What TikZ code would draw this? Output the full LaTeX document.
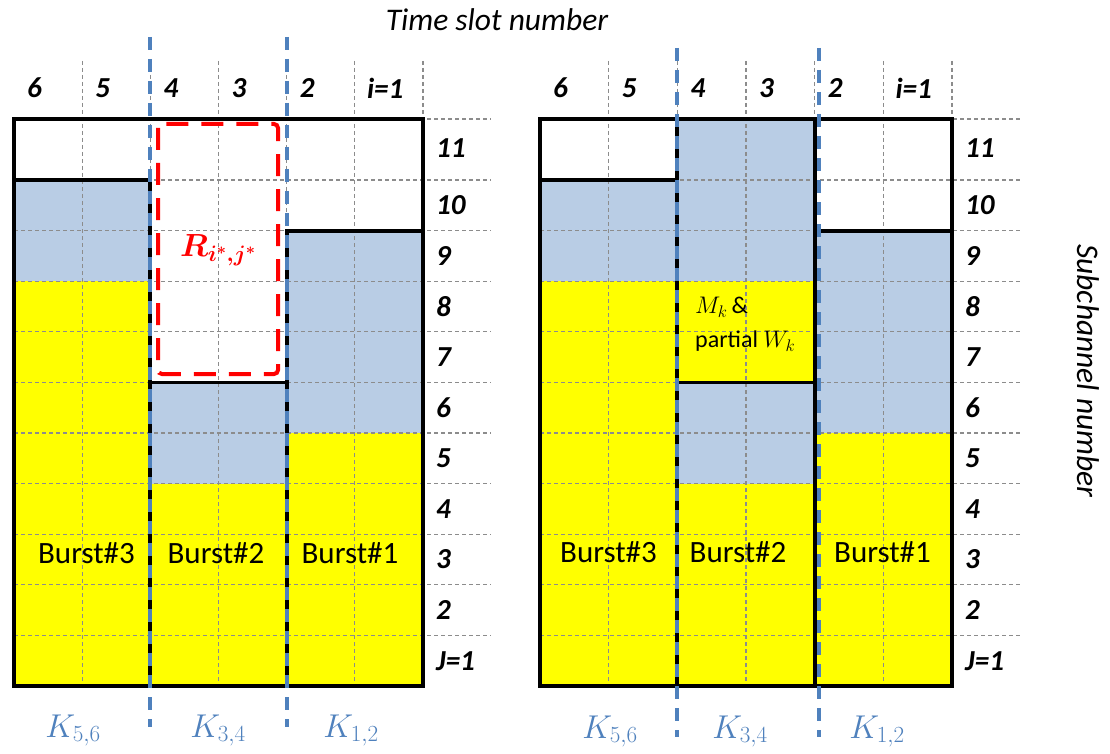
\RequirePackage{fix-cm}
\documentclass[tikz,border=0pt]{standalone}
\usepackage{amsmath}
\usepackage{fontspec}
\setmainfont{Carlito}
\definecolor{lblue}{HTML}{B9CDE5}
\definecolor{yel}{HTML}{FFFF00}
\definecolor{kblue}{HTML}{4F81BD}
\definecolor{gridgray}{HTML}{8C8C8C}
\definecolor{rred}{HTML}{FF0000}
\begin{document}
\begin{tikzpicture}[x=1pt,y=-1pt,
  gridline/.style={draw=gridgray,line width=1.2pt,dash pattern=on 4pt off 3pt},
  blk/.style={draw=black,line width=3.8pt,line cap=rect,line join=miter},
  kline/.style={draw=kblue,line width=3.8pt,dash pattern=on 13pt off 9pt},
  numlab/.style={font=\fontsize{29}{32}\selectfont\bfseries\itshape,inner sep=0pt},
  burstlab/.style={font=\fontsize{31}{34}\selectfont,inner sep=0pt},
  klab/.style={text=kblue,font=\fontsize{33}{36}\selectfont,inner sep=0pt,anchor=base},
  axislab/.style={font=\fontsize{31.5}{34}\selectfont\itshape,inner sep=0pt}]
\useasboundingbox (0,0) rectangle (1110,754);
\fill[white] (0,0) rectangle (1110,754);
% ---------- fills: left grid ----------
\fill[lblue] (14,180) rectangle (150.33,281.2);
\fill[yel] (14,281.2) rectangle (150.33,686);
\fill[lblue] (150.33,382.4) rectangle (286.67,483.6);
\fill[yel] (150.33,483.6) rectangle (286.67,686);
\fill[lblue] (286.67,230.6) rectangle (423,433);
\fill[yel] (286.67,433) rectangle (423,686);
% ---------- fills: right grid ----------
\fill[lblue] (540,180) rectangle (677.33,281.2);
\fill[yel] (540,281.2) rectangle (677.33,686);
\fill[lblue] (677.33,119) rectangle (814.67,281.2);
\fill[yel] (677.33,281.2) rectangle (814.67,382.4);
\fill[lblue] (677.33,382.4) rectangle (814.67,483.6);
\fill[yel] (677.33,483.6) rectangle (814.67,686);
\fill[lblue] (814.67,230.6) rectangle (952,433);
\fill[yel] (814.67,433) rectangle (952,686);
% ---------- gray dashed grid ----------
\foreach \xo/\w in {14/68.1667,540/68.6667}{
  \foreach \k in {1,...,6}{
    \draw[gridline] ({\xo+\k*\w},61) -- ({\xo+\k*\w},686);
  }
  \foreach \k in {1,...,10}{
    \draw[gridline] (\xo,{686-50.6*\k}) -- ({\xo+7*\w},{686-50.6*\k});
  }
  \draw[gridline] (\xo,119) -- ({\xo+7*\w},119);
}
% ---------- black outlines: left ----------
\draw[blk] (14,119) rectangle (423,686);
\draw[blk] (14,180) -- (150.33,180) -- (150.33,686);
\draw[blk] (150.33,382.4) -- (286.67,382.4);
\draw[blk] (286.67,686) -- (286.67,230.6) -- (423,230.6);
% ---------- black outlines: right ----------
\draw[blk] (540,119) rectangle (952,686);
\draw[blk] (540,180) -- (677.33,180);
\draw[blk] (677.33,119) -- (677.33,686);
\draw[blk] (677.33,382.4) -- (814.67,382.4);
\draw[blk] (814.67,119) -- (814.67,686);
\draw[blk] (814.67,230.6) -- (952,230.6);
% ---------- blue dashed dividers ----------
\coordinate (kl1t) at (150.33,37);  \coordinate (kl1b) at (150.33,727);
\coordinate (kl2t) at (286.67,37);  \coordinate (kl2b) at (286.67,727);
\coordinate (kr1t) at (677.33,48);  \coordinate (kr1b) at (677.33,737);
\coordinate (kr2t) at (819,48);     \coordinate (kr2b) at (819,737);
\draw[kline] (kl1t) -- (kl1b);
\draw[kline] (kl2t) -- (kl2b);
\draw[kline] (kr1t) -- (kr1b);
\draw[kline] (kr2t) -- (kr2b);
% ---------- red dashed region ----------
\draw[draw=rred,line width=4pt,dash pattern=on 22pt off 13pt,rounded corners=4pt]
  (158,124) rectangle (278,374);
\node[text=rred,inner sep=0pt,font=\fontsize{32}{34}\selectfont] (rlab) at (218,250) {$\boldsymbol{R_{i^*,j^*}}$};
% ---------- title and axis ----------
\node[axislab] (title) at (497,20) {Time slot number};
\node[axislab,rotate=-90] (subch) at (1088,371) {Subchannel number};
% ---------- column labels ----------
\foreach \xo/\w/\p in {14/68.1667/l,540/68.6667/r}{
  \node[numlab,anchor=west] (\p c6) at ({\xo+0*\w+13},88) {6};
  \node[numlab,anchor=west] (\p c5) at ({\xo+1*\w+13},88) {5};
  \node[numlab,anchor=west] (\p c4) at ({\xo+2*\w+13},88) {4};
  \node[numlab,anchor=west] (\p c3) at ({\xo+3*\w+13},88) {3};
  \node[numlab,anchor=west] (\p c2) at ({\xo+4*\w+13},88) {2};
  \node[numlab,anchor=west] (\p c1) at ({\xo+5*\w+12},88) {i=1};
}
% ---------- row labels ----------
\foreach \xr/\p in {436/l,965/r}{
  \node[numlab,anchor=west] (\p r11) at (\xr,148) {11};
  \foreach \k in {2,...,10}{
    \node[numlab,anchor=west] (\p r\k) at (\xr,{686-50.6*(\k-0.5)}) {\k};
  }
  \node[numlab,anchor=west] (\p r1) at (\xr,{686-50.6*0.5}) {J=1};
}
% ---------- burst labels ----------
\node[burstlab] (lb3) at (86.5,553) {Burst\#3};
\node[burstlab] (lb2) at (216,553) {Burst\#2};
\node[burstlab] (lb1) at (350,553) {Burst\#1};
\node[burstlab] (rb3) at (608.5,552) {Burst\#3};
\node[burstlab] (rb2) at (738,552) {Burst\#2};
\node[burstlab] (rb1) at (882.5,552) {Burst\#1};
% ---------- M_k & partial W_k ----------
\node[anchor=west,inner sep=0pt,font=\fontsize{24}{28}\selectfont] (mk) at (695,307) {$M_k$\,\&};
\node[anchor=west,inner sep=0pt,font=\fontsize{24}{28}\selectfont] (wk) at (695,341) {partial $W_k$};
% ---------- K labels ----------
\node[klab] (lk56) at (73,737) {$K_{5,6}$};
\node[klab] (lk34) at (218,737) {$K_{3,4}$};
\node[klab] (lk12) at (351,737) {$K_{1,2}$};
\node[klab] (rk56) at (610,738) {$K_{5,6}$};
\node[klab] (rk34) at (740,738) {$K_{3,4}$};
\node[klab] (rk12) at (877,738) {$K_{1,2}$};
\end{tikzpicture}
\end{document}
